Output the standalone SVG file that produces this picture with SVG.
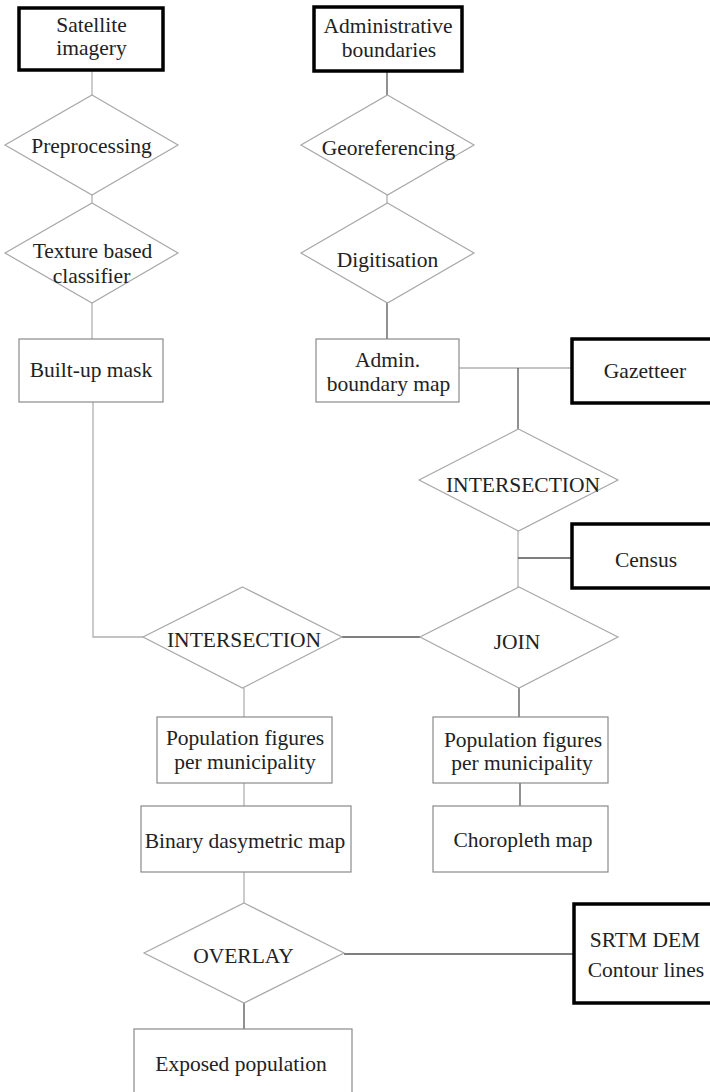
<svg xmlns="http://www.w3.org/2000/svg" width="710" height="1092" viewBox="0 0 710 1092">
<style>
  text { font-family: "Liberation Serif", "Times New Roman", serif; font-size: 21.5px; fill: #222; text-anchor: middle; }
  .box { fill: #fff; stroke: #8a8a8a; stroke-width: 1.2; }
  .src { fill: #fff; stroke: #000; stroke-width: 3.5; }
  .dia { fill: #fff; stroke: #a8a8a8; stroke-width: 1.2; }
  .c { fill: none; stroke: #b0b0b0; stroke-width: 1.3; }
  .cd { fill: none; stroke: #555; stroke-width: 1.3; }
</style>
<rect width="710" height="1092" fill="#fff"/>
<g id="connectors">
  <path class="c" d="M92,70 V95"/>
  <path class="c" d="M92,195 V203"/>
  <path class="c" d="M92,303 V339"/>
  <path class="c" d="M93,402 V637 H143"/>
  <path class="cd" d="M387,71 V95"/>
  <path class="c" d="M387,195 V203"/>
  <path class="cd" d="M387,303 V339"/>
  <path class="c" d="M459,368 H572"/>
  <path class="cd" d="M518,368 V429"/>
  <path class="c" d="M518,531 V587"/>
  <path class="cd" d="M518,558 H572"/>
  <path class="cd" d="M342,637 H420"/>
  <path class="cd" d="M519,688 V717"/>
  <path class="c" d="M244,688 V717"/>
  <path class="c" d="M244,783 V806"/>
  <path class="cd" d="M520,783 V806"/>
  <path class="c" d="M244,872 V903"/>
  <path class="cd" d="M244,1003 V1029"/>
  <path class="cd" d="M344,954 H574"/>
</g>
<g id="satellite">
  <rect class="src" x="19" y="8" width="144" height="62"/>
  <text x="91.5" y="32">Satellite</text>
  <text x="91.5" y="55">imagery</text>
</g>
<g id="preprocessing">
  <polygon class="dia" points="92,95 178,145 92,195 5,145"/>
  <text x="91.5" y="153">Preprocessing</text>
</g>
<g id="texture">
  <polygon class="dia" points="92,203 178,253 92,303 5,253"/>
  <text x="92.5" y="258">Texture based</text>
  <text x="91.5" y="283">classifier</text>
</g>
<g id="builtup">
  <rect class="box" x="19" y="339" width="144" height="63"/>
  <text x="91" y="377">Built-up mask</text>
</g>
<g id="admin">
  <rect class="src" x="314" y="7" width="148" height="64"/>
  <text x="388" y="33">Administrative</text>
  <text x="389" y="57">boundaries</text>
</g>
<g id="georef">
  <polygon class="dia" points="387.5,95 474,145 387.5,195 301,145"/>
  <text x="388.5" y="155">Georeferencing</text>
</g>
<g id="digit">
  <polygon class="dia" points="387.5,203 474,253 387.5,303 301,253"/>
  <text x="387.5" y="267">Digitisation</text>
</g>
<g id="adminmap">
  <rect class="box" x="316" y="339" width="143" height="63"/>
  <text x="387.5" y="367">Admin.</text>
  <text x="388.5" y="391">boundary map</text>
</g>
<g id="gazetteer">
  <rect class="src" x="572" y="339" width="150" height="64"/>
  <text x="645" y="378">Gazetteer</text>
</g>
<g id="intersect1">
  <polygon class="dia" points="518.5,429 618,480 518.5,531 419,480"/>
  <text x="523" y="492">INTERSECTION</text>
</g>
<g id="census">
  <rect class="src" x="572" y="524" width="150" height="64"/>
  <text x="646" y="567">Census</text>
</g>
<g id="intersect2">
  <polygon class="dia" points="242.5,587 342,637 242.5,688 143,637"/>
  <text x="244" y="647">INTERSECTION</text>
</g>
<g id="join">
  <polygon class="dia" points="519,587 618,637 519,688 420,637"/>
  <text x="517" y="649">JOIN</text>
</g>
<g id="popleft">
  <rect class="box" x="157" y="717" width="175" height="66"/>
  <text x="245" y="745">Population figures</text>
  <text x="245" y="769">per municipality</text>
</g>
<g id="popright">
  <rect class="box" x="433" y="717" width="175" height="66"/>
  <text x="523" y="747">Population figures</text>
  <text x="522" y="770">per municipality</text>
</g>
<g id="binary">
  <rect class="box" x="141" y="806" width="210" height="66"/>
  <text x="245" y="848">Binary dasymetric map</text>
</g>
<g id="choropleth">
  <rect class="box" x="433" y="806" width="175" height="66"/>
  <text x="523" y="847">Choropleth map</text>
</g>
<g id="overlay">
  <polygon class="dia" points="244,903 344,953 244,1003 144,953"/>
  <text x="243.5" y="963">OVERLAY</text>
</g>
<g id="srtm">
  <rect class="src" x="574" y="904" width="150" height="99"/>
  <text x="645" y="947">SRTM DEM</text>
  <text x="646" y="977">Contour lines</text>
</g>
<g id="exposed">
  <rect class="box" x="134" y="1029" width="218" height="80"/>
  <text x="241" y="1071">Exposed population</text>
</g>
</svg>
